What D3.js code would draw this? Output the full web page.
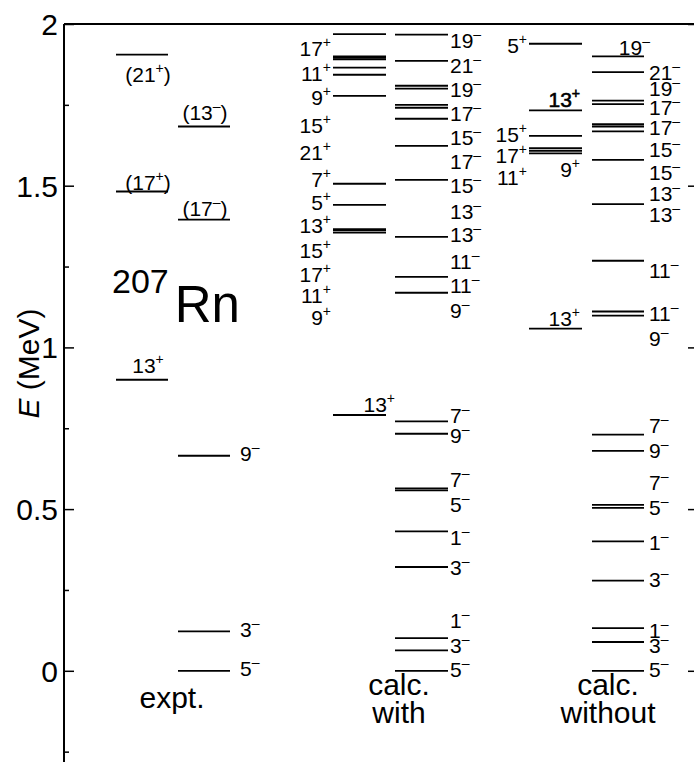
<!DOCTYPE html>
<html lang="en">
    <head>
        <meta charset="UTF-8" />
        <title>207Rn levels</title>
        <script src="https://d3js.org/d3.v7.min.js"></script>
        <style>
            body { margin: 0; background: #fff; }
            text { font-family: "Liberation Sans", Arial, sans-serif; fill: #000; }
        </style>
    </head>
    <body>
        <div class="canvas"></div>
        <script>
            // axis
            const majorTicks = [0, 0.5, 1, 1.5, 2];
            const minorTicks = [-0.25, 0.25, 0.75, 1.25, 1.75];

            // expt. (levels in MeV, label baselines in MeV)
            const exptPosE = [1.905, 1.482, 0.9];
            const exptPosJ = ["(21+)", "(17+)", "13+"];
            const exptPosLabelE = [1.821, 1.487, 0.921];
            const exptNegHighE = [1.683, 1.395];
            const exptNegHighJ = ["(13-)", "(17-)"];
            const exptNegHighLabelE = [1.704, 1.405];
            const exptNegLowE = [0.665, 0.122, 0];
            const exptNegLowJ = ["9-", "3-", "5-"];
            const exptNegLowLabelE = [0.648, 0.105, -0.017];

            // calc. with
            const withPosE = [1.969, 1.9, 1.896, 1.891, 1.865, 1.843, 1.778, 1.506, 1.441, 1.366, 1.362, 1.355];
            const withPosJ = ["17+", "11+", "9+", "15+", "21+", "7+", "5+", "13+", "15+", "17+", "11+", "9+"];
            const withPosLabelE = [1.902, 1.824, 1.75, 1.664, 1.58, 1.497, 1.425, 1.354, 1.277, 1.203, 1.138, 1.07];
            const withPosLowE = [0.791];
            const withPosLowJ = ["13+"];
            const withPosLowLabelE = [0.8];
            const withNegE = [1.967, 1.886, 1.809, 1.8, 1.75, 1.741, 1.707, 1.623, 1.518, 1.342, 1.218, 1.169,
                              0.771, 0.733, 0.564, 0.558, 0.431, 0.321, 0.101, 0.063, 0];
            const withNegJ = ["19-", "21-", "19-", "17-", "15-", "17-", "15-", "13-", "13-", "11-", "11-", "9-",
                              "7-", "9-", "7-", "5-", "1-", "3-", "1-", "3-", "5-"];
            const withNegLabelE = [1.926, 1.849, 1.775, 1.701, 1.626, 1.552, 1.478, 1.398, 1.327, 1.243, 1.169, 1.092,
                                   0.767, 0.705, 0.569, 0.492, 0.39, 0.297, 0.133, 0.056, -0.019];

            // calc. without
            const woPosSideE = [1.939, 1.654, 1.616, 1.608];
            const woPosSideJ = ["5+", "15+", "17+", "11+"];
            const woPosSideLabelE = [1.911, 1.636, 1.571, 1.503];
            const woPosOverE = [1.733, 1.6, 1.058];
            const woPosOverJ = ["13+", "9+", "13+"];
            const woPosOverLabelE = [1.744, 1.528, 1.067];
            const woNegOverE = [1.9];
            const woNegOverJ = ["19-"];
            const woNegOverLabelE = [1.905];
            const woNegE = [1.851, 1.763, 1.752, 1.69, 1.683, 1.668, 1.58, 1.443, 1.268, 1.111, 1.098,
                            0.73, 0.68, 0.513, 0.504, 0.4, 0.279, 0.132, 0.089, 0];
            const woNegJ = ["21-", "19-", "17-", "17-", "15-", "15-", "13-", "13-", "11-", "11-", "9-",
                            "7-", "9-", "7-", "5-", "1-", "3-", "1-", "3-", "5-"];
            const woNegLabelE = [1.827, 1.778, 1.719, 1.657, 1.589, 1.518, 1.453, 1.388, 1.215, 1.082, 1.005,
                                 0.736, 0.659, 0.56, 0.482, 0.374, 0.26, 0.102, 0.056, -0.019];

            const columnNames = [["expt."], ["calc.", "with"], ["calc.", "without"]];

            const width = 694;
            const height = 762;
            const axisX = 64;
            const labelSize = 21;

            const svg = d3
                .select(".canvas")
                .append("svg")
                .attr("width", width)
                .attr("height", height);

            const y = d3.scaleLinear().domain([-0.282, 2]).range([height, 24]);

            // frame
            svg.append("line")
                .attr("x1", axisX).attr("x2", width + 2)
                .attr("y1", y(2)).attr("y2", y(2))
                .attr("stroke", "#000").attr("stroke-width", 2);

            const yAxisG = svg.append("g").attr("transform", `translate(${axisX},0)`);
            yAxisG.call(d3.axisRight(y).tickValues(majorTicks).tickSize(10).tickFormat(""));
            yAxisG.select(".domain").remove();
            yAxisG.selectAll("line").attr("stroke-width", 1.5);
            yAxisG.append("g").call(d3.axisRight(y).tickValues(minorTicks).tickSize(5).tickFormat(""))
                .call((g) => g.select(".domain").remove())
                .selectAll("line").attr("stroke-width", 1.5);
            yAxisG.append("line")
                .attr("y1", y(2)).attr("y2", height)
                .attr("stroke", "#000").attr("stroke-width", 2);

            yAxisG.selectAll(".tickLabel")
                .data(majorTicks)
                .enter()
                .append("text")
                .attr("x", -6)
                .attr("y", (d) => y(d))
                .attr("dy", "0.36em")
                .attr("text-anchor", "end")
                .style("font-size", "30px")
                .text((d) => d);

            // right axis, only its ticks show
            const rightG = svg.append("g").attr("transform", `translate(${width + 1},0)`);
            rightG.call(d3.axisLeft(y).tickValues(majorTicks).tickSize(7).tickFormat(""))
                .selectAll("line").attr("stroke-width", 1.5);

            svg.append("text")
                .attr("transform", `translate(39, ${y(0.95)}) rotate(-90)`)
                .attr("text-anchor", "middle")
                .style("font-size", "30px")
                .call((t) => {
                    t.append("tspan").style("font-style", "italic").text("E");
                    t.append("tspan").text(" (MeV)");
                });

            function spin(textSel, s) {
                const m = s.match(/^(\(?)(\d+)([+-])(\)?)$/);
                textSel.append("tspan").text(m[1] + m[2]);
                textSel.append("tspan")
                    .attr("dy", -9)
                    .style("font-size", "14px")
                    .text(m[3] === "+" ? "+" : "\u2013");
                if (m[4]) textSel.append("tspan").attr("dy", 9).text(m[4]);
            }

            // x0, x1 of the level line, label side: "left", "right", "over", "mid"
            function levels(energies, spins, labelE, x0, x1, side, dx) {
                const g = svg.append("g");
                g.selectAll("line")
                    .data(energies)
                    .enter()
                    .append("line")
                    .attr("x1", x0)
                    .attr("x2", x1)
                    .attr("y1", (d) => y(d))
                    .attr("y2", (d) => y(d))
                    .attr("stroke", "#000")
                    .attr("stroke-width", 1.8);
                let ax = side === "left" ? x0 - dx : side === "mid" ? (x0 + x1) / 2 + dx : x1 + dx;
                let anchor = side === "right" ? "start" : side === "mid" ? "middle" : "end";
                g.selectAll("text")
                    .data(spins)
                    .enter()
                    .append("text")
                    .attr("x", ax)
                    .attr("y", (d, i) => y(labelE[i]))
                    .attr("text-anchor", anchor)
                    .style("font-size", labelSize + "px")
                    .each(function (d) {
                        spin(d3.select(this), d);
                    });
                return g;
            }

            levels(exptPosE, exptPosJ, exptPosLabelE, 116, 168, "mid", 6);
            levels(exptNegHighE, exptNegHighJ, exptNegHighLabelE, 178, 230, "mid", 1);
            levels(exptNegLowE, exptNegLowJ, exptNegLowLabelE, 178, 230, "right", 10);

            levels(withPosE, withPosJ, withPosLabelE, 333, 386, "left", 2);
            levels(withPosLowE, withPosLowJ, withPosLowLabelE, 333, 386, "over", 9);
            levels(withNegE, withNegJ, withNegLabelE, 395, 448, "right", 2);

            levels(woPosSideE, woPosSideJ, woPosSideLabelE, 529, 582, "left", 2);
            // the upper 13+ is printed heavier in the original
            levels(woPosOverE, woPosOverJ, woPosOverLabelE, 529, 582, "over", -2)
                .selectAll("text")
                .filter((d, i) => i === 0)
                .attr("stroke", "#000")
                .attr("stroke-width", 0.6);
            levels(woNegOverE, woNegOverJ, woNegOverLabelE, 592, 644, "over", 6);
            levels(woNegE, woNegJ, woNegLabelE, 592, 644, "right", 5);

            // nucleus
            const nuc = svg.append("text").attr("x", 112).attr("y", 322);
            nuc.append("tspan").attr("dy", -29).style("font-size", "34px").text("207");
            nuc.append("tspan").attr("dx", 6).attr("dy", 29).style("font-size", "51px").text("Rn");

            // column names
            const colX = d3.scaleOrdinal().domain([0, 1, 2]).range([172, 399, 608]);
            svg.selectAll(".colname")
                .data(columnNames)
                .enter()
                .append("text")
                .attr("x", (d, i) => colX(i))
                .attr("y", (d) => (d.length > 1 ? 695 : 708))
                .attr("text-anchor", "middle")
                .style("font-size", "30px")
                .each(function (d) {
                    d3.select(this)
                        .selectAll("tspan")
                        .data(d)
                        .enter()
                        .append("tspan")
                        .attr("x", d3.select(this).attr("x"))
                        .attr("dy", (t, j) => (j === 0 ? 0 : 28))
                        .text((t) => t);
                });
        </script>
    </body>
</html>
